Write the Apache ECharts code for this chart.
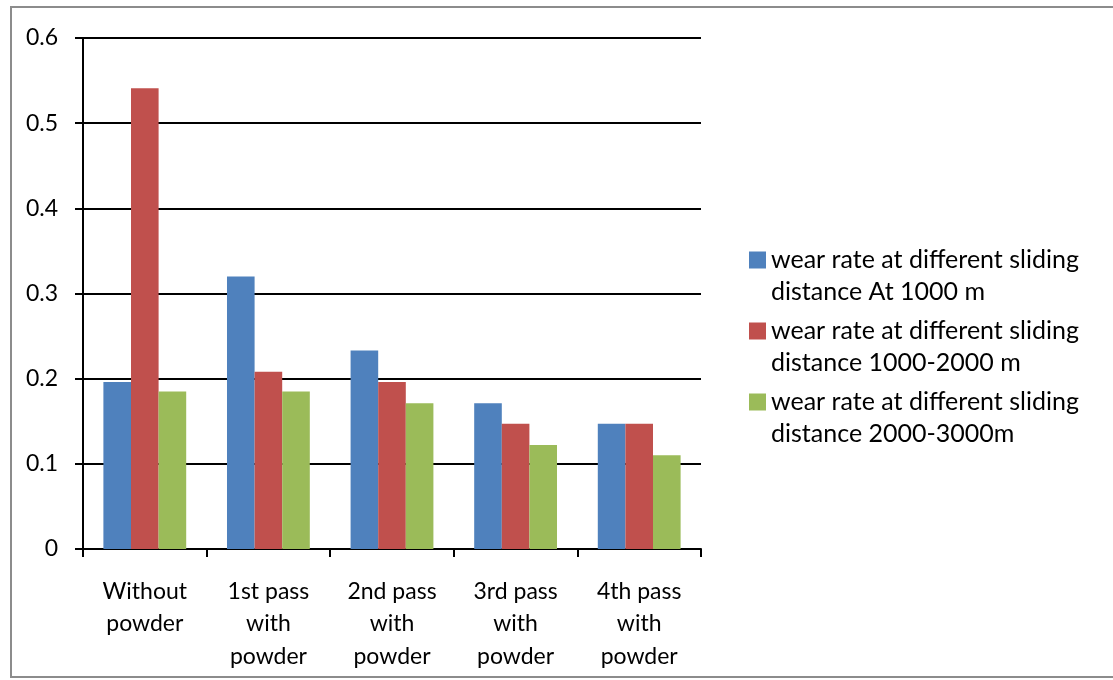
<!DOCTYPE html>
<html>
<head>
<meta charset="utf-8">
<script src="https://cdn.jsdelivr.net/npm/echarts@6/dist/echarts.min.js"></script>
<style>
  html, body { margin: 0; padding: 0; background: #fff; }
  #chart { width: 1113px; height: 680px; }
</style>
</head>
<body>
<div id="chart"></div>
<script>
// Wear rate per processing stage
const categories = ['Without powder', '1st pass with powder', '2nd pass with powder', '3rd pass with powder', '4th pass with powder'];
const seriesNames = [
  'wear rate at different sliding distance At 1000 m',
  'wear rate at different sliding distance 1000-2000 m',
  'wear rate at different sliding distance 2000-3000m'
];
const wearAt1000 = [0.196, 0.320, 0.233, 0.171, 0.147];
const wear1000to2000 = [0.541, 0.208, 0.196, 0.147, 0.147];
const wear2000to3000 = [0.185, 0.185, 0.171, 0.122, 0.110];
const yTicks = { min: 0, max: 0.6, interval: 0.1 };

const colors = ['#4f81bd', '#c0504d', '#9bbb59'];
const FONT = 'Lato';

const chart = echarts.init(document.getElementById('chart'), null, { renderer: 'canvas' });

const values = [wearAt1000, wear1000to2000, wear2000to3000];
const series = seriesNames.map((name, i) => ({
  name: name,
  type: 'bar',
  data: values[i],
  barGap: '0%',
  barCategoryGap: '33%',
  itemStyle: { color: colors[i] }
}));

chart.setOption({
  animation: false,
  backgroundColor: '#fff',
  textStyle: { fontFamily: FONT },
  graphic: [{
    type: 'rect',
    shape: { x: 11, y: 7, width: 1110, height: 670 },
    style: { fill: 'none', stroke: '#8c8c8c', lineWidth: 2 },
    silent: true
  }],
  grid: { left: 83, right: 412, top: 38, bottom: 131 },
  legend: {
    orient: 'vertical',
    left: 744,
    top: 207,
    itemWidth: 17,
    itemHeight: 17,
    itemGap: -25,
    icon: 'rect',
    textStyle: {
      fontFamily: FONT,
      fontSize: 25,
      color: '#000',
      lineHeight: 32
    },
    // blank leading line keeps the swatch level with the first text line
    formatter: name => '\n' + name.replace(' distance', '\ndistance')
  },
  xAxis: {
    type: 'category',
    data: categories,
    axisLine: { lineStyle: { color: '#000', width: 2 } },
    axisTick: { show: true, length: 8, lineStyle: { color: '#000', width: 2 } },
    axisLabel: {
      color: '#000',
      fontFamily: FONT,
      fontSize: 23,
      lineHeight: 32.5,
      margin: 26,
      interval: 0,
      formatter: v => v.replace('Without ', 'Without\n').replace(' with ', '\nwith\n')
    }
  },
  yAxis: {
    type: 'value',
    min: yTicks.min,
    max: yTicks.max,
    interval: yTicks.interval,
    axisLine: { show: true, lineStyle: { color: '#000', width: 2 } },
    axisTick: { show: true, length: 8, lineStyle: { color: '#000', width: 2 } },
    splitLine: { show: true, lineStyle: { color: '#000', width: 2 } },
    axisLabel: {
      color: '#000',
      fontFamily: FONT,
      fontSize: 23,
      margin: 25,
      padding: [8, 0, 0, 0],
      formatter: v => String(Math.round(v * 10) / 10)
    }
  },
  series: series
});
</script>
</body>
</html>
